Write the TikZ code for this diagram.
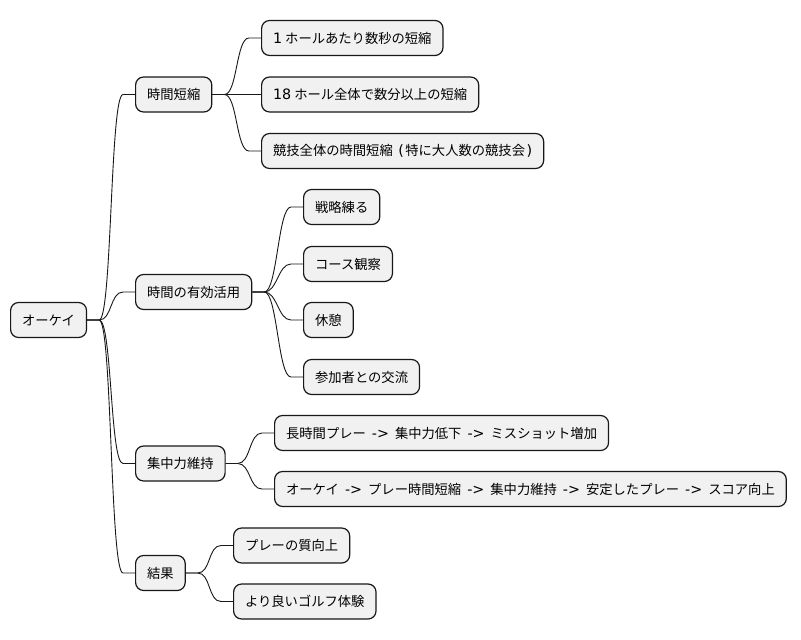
\documentclass[tikz,border=0pt]{standalone}
\usepackage{fontspec}
\setmainfont{Noto Sans CJK JP}
\newfontfamily\lat{DejaVu Sans}
\usetikzlibrary{calc}
\definecolor{boxfill}{HTML}{F1F1F1}
\definecolor{boxline}{HTML}{181818}
\newcommand\latf{\lat\fontsize{14.3}{16}\selectfont}
\newcommand\lnum[1]{{\latf #1}\hspace{3pt}}
\newcommand\larr{{\latf\hspace{6pt}->\hspace{6pt}}}
\begin{document}
\begin{tikzpicture}[x=1pt,y=-1pt,
  box/.style={draw=boxline, line width=1.2pt, fill=boxfill, rounded corners=8pt,
    minimum height=35pt, inner xsep=11.5pt, inner ysep=0pt, anchor=west,
    font=\fontsize{13.3}{16}\selectfont},
  mm/.style={to path={-- ++(12,0) .. controls +(13,0) and +(-13,0) .. ($(\tikztotarget)+(-12,0)$) -- (\tikztotarget)}},
  conn/.style={draw=boxline, line width=0.9pt}]
\useasboundingbox (0,0) rectangle (801,640);
\fill[white] (0,0) rectangle (801,640);
% root and level 1
\node[box] (root) at (10,320) {オーケイ};
\node[box] (a) at (135,94.5) {時間短縮};
\node[box] (b) at (135,292) {時間の有効活用};
\node[box] (c) at (135,463.5) {集中力維持};
\node[box] (d) at (135,573) {結果};
% level 2
\node[box] (a1) at (261,38) {\lnum{1}ホールあたり数秒の短縮};
\node[box] (a2) at (261,94.5) {\lnum{18}ホール全体で数分以上の短縮};
\node[box] (a3) at (261,151) {競技全体の時間短縮{\latf\hspace{5.5pt}(\hspace{1.5pt}}特に大人数の競技会{\latf\hspace{1.5pt})}};
\node[box] (b1) at (303,207) {戦略練る};
\node[box] (b2) at (303,264) {コース観察};
\node[box] (b3) at (303,320) {休憩};
\node[box] (b4) at (303,377) {参加者との交流};
\node[box] (c1) at (274,433) {長時間プレー\larr 集中力低下\larr ミスショット増加};
\node[box] (c2) at (274,489) {オーケイ\larr プレー時間短縮\larr 集中力維持\larr 安定したプレー\larr スコア向上};
\node[box] (d1) at (233,545.5) {プレーの質向上};
\node[box] (d2) at (233,601.5) {より良いゴルフ体験};
% connectors
\foreach \p/\c in {root/a, root/b, root/c, root/d,
  a/a1, a/a2, a/a3, b/b1, b/b2, b/b3, b/b4, c/c1, c/c2, d/d1, d/d2}
  \draw[conn] (\p.east) to[mm] (\c.west);
\end{tikzpicture}
\end{document}
